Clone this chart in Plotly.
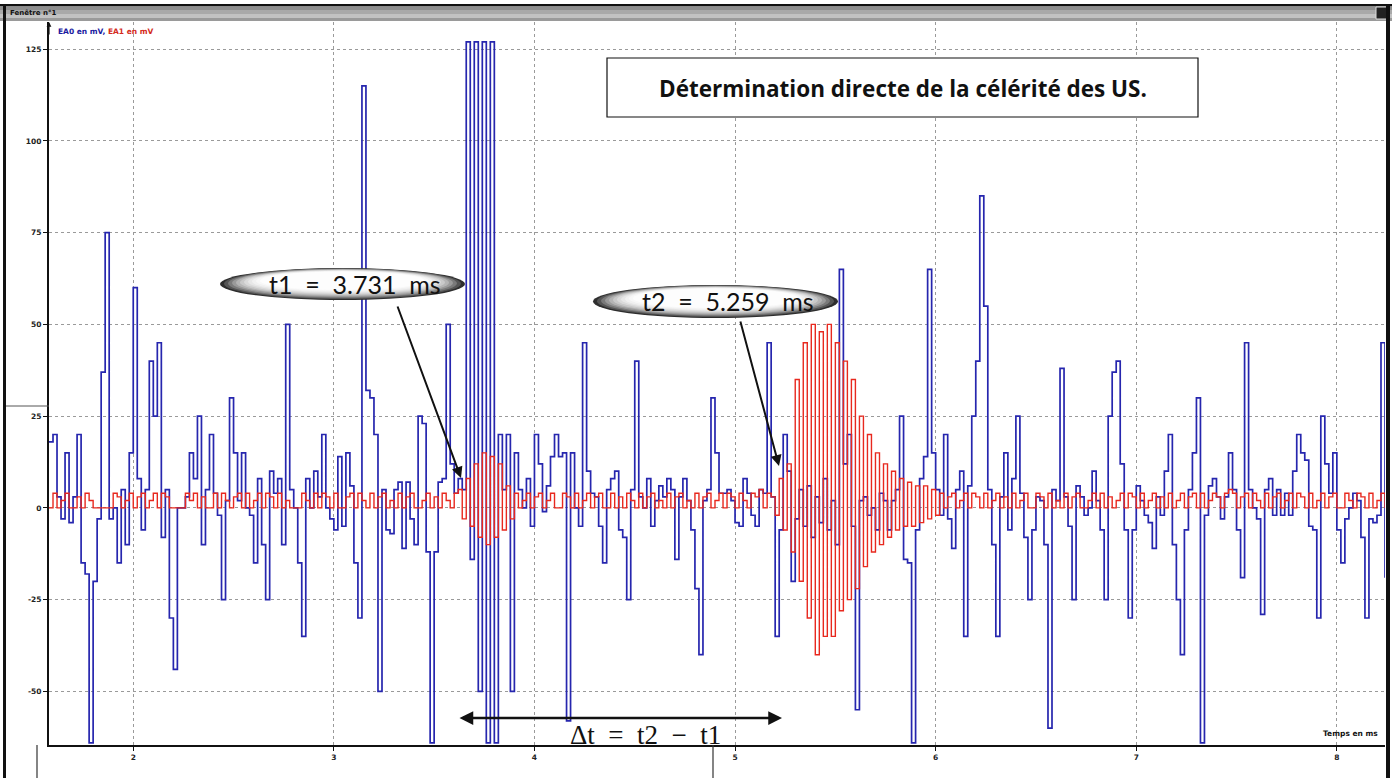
import numpy as np
import plotly.graph_objects as go

# Acquisition: two channels sampled every 0.02 ms starting at 1.58 ms
T0_MS = 1.58
DT_MS = 0.02

# EA0 (emitter side, blue) in mV
ea0_mv = [
    18, 20, 3, -3, 15, -4, 3, 20, -15, -18, -64, -20, -3, 37, 75, -3, 0, -15, 5, -10,
    15, 60, 8, -6, 5, 40, 25, 45, -8, 5, -30, -44, 0, 0, 3, 15, 8, 25, -10, 5,
    20, 4, -2, -25, 2, 30, 15, 2, 15, 0, -2, -15, 8, -10, -25, 10, 4, 8, -10, 50,
    5, 0, -15, -35, 8, 0, 10, 3, 20, 0, -3, -6, 14, -5, 15, 6, -15, -30, 115, 32,
    30, 20, -50, 5, -6, -7, 5, 7, -11, 7, -3, -10, 25, 23, -12, -64, -12, 7, 8, 50,
    12, 4, 8, 5, 127, -14, 127, -50, 127, -64, 127, -64, 20, 5, 20, -50, 15, 5, 0, 8,
    -5, 20, 12, -1, 6, 14, 20, 14, 15, -58, 15, 0, -5, 45, 10, 4, 3, -5, -15, 5,
    8, 10, -6, -8, -25, 5, 40, 3, 0, 8, -5, 2, 6, 3, 8, 5, -14, 3, 8, 2,
    -6, -22, -40, 2, 5, 30, 15, 4, 4, 5, 2, -4, -5, 8, 4, -2, -5, 5, 4, 45,
    3, -35, -6, 20, 10, -20, -3, 5, -5, 6, -8, 3, -4, 8, -6, 2, -10, 65, 12, 20,
    -5, -55, 2, 3, -2, 0, -6, 4, 2, -6, 2, 5, 25, -14, -15, -64, -6, 8, 14, 65,
    15, 5, -2, 20, -3, -11, 5, 10, -35, 6, 25, 40, 85, 55, 5, -10, -35, 3, 15, -6,
    8, 25, 4, -8, -25, -6, 3, 2, -10, -60, 5, 2, 38, 3, -5, -25, 6, 3, -2, 0,
    10, 2, -6, -25, 25, 37, 40, 12, -6, -30, -6, 6, 2, -2, -4, -11, 3, -2, 10, 20,
    -10, -25, -40, -6, 5, 15, 30, -64, -2, 6, 8, 3, -3, 3, 15, 5, -6, -19, 45, 5,
    0, -3, -29, 5, 8, -2, 5, -2, 4, -2, 10, 20, 15, 13, -5, -6, -30, 25, 12, 4,
    15, -6, -15, -3, 0, 4, 2, -8, -30, -3, -4, -2, 45, -19,
]

# EA1 (receiver side, red) in mV
ea1_mv = [
    0, 4, 0, 2, 4, 0, 0, 3, 0, 4, 2, 0, 0, 0, 0, 0, 4, 3, 0, 2,
    4, 0, 3, 4, 0, 2, 4, 0, 4, 3, 0, 0, 0, 0, 4, 2, 4, 0, 3, 0,
    0, 4, 0, 4, 2, 0, 3, 4, 0, 4, 0, 2, 4, 0, 4, 3, 0, 4, 0, 2,
    0, 0, 0, 4, 2, 0, 4, 0, 4, 3, 0, 4, 0, 0, 3, 4, 0, 4, 2, 0,
    4, 0, 3, 4, 0, 2, 0, 4, 0, 3, 4, 0, 0, 2, 4, 0, 3, 0, 4, 2,
    0, 4, 5, -3, 8, -5, 12, -8, 15, -10, 14, -8, 12, -6, 6, -3, 4, 0, 2, 4,
    0, 3, 4, 0, 2, 4, 0, 0, 4, 3, 0, 4, 0, 2, 4, 0, 3, 4, 0, 0,
    4, 0, 3, 0, 4, 2, 0, 4, 0, 3, 4, 0, 2, 0, 4, 0, 3, 4, 0, 2,
    0, 4, 0, 3, 4, 0, 2, 4, 0, 4, 3, 0, 4, 2, 0, 4, 3, 5, 0, 4,
    3, -2, 8, -6, 12, -12, 35, -20, 45, -30, 50, -40, 48, -35, 50, -35, 45, -28, 40, -25,
    35, -22, 25, -16, 20, -12, 15, -10, 12, -8, 10, -6, 8, -5, 7, -5, 6, -4, 6, -3,
    5, -2, 4, 0, 3, 4, 0, 2, 4, 0, 4, 3, 0, 4, 0, 2, 4, 0, 3, 0,
    4, 0, 2, 4, 0, 0, 4, 3, 0, 4, 0, 2, 0, 4, 0, 3, 4, 0, 0, 2,
    4, 0, 4, 0, 3, 0, 2, 4, 0, 4, 3, 0, 4, 0, 2, 4, 0, 3, 0, 4,
    0, 2, 4, 0, 3, 4, 0, 4, 0, 2, 4, 3, 0, 4, 5, 4, 0, 3, 4, 0,
    4, 2, 0, 4, 0, 3, 4, 0, 2, 4, 0, 4, 3, 0, 4, 0, 2, 4, 0, 3,
    4, 0, 0, 4, 2, 0, 4, 3, 0, 4, 0, 2, 4, 0,
]

x_ticks = [2, 3, 4, 5, 6, 7, 8]
y_ticks = [-50, -25, 0, 25, 50, 75, 100, 125]

t_ms = T0_MS + DT_MS * np.arange(len(ea0_mv))

# Page geometry (pixels) and plot-area edges
W, H = 1392, 778
L, R, T, B = 49, 1385, 22, 745


def px(x):
    return (x - L) / (R - L)


def py(y):
    return (B - y) / (B - T)


def label(x, y, text, size, family="DejaVu Sans", color="#111111", xanchor="center", **kw):
    return dict(xref="paper", yref="paper", x=px(x), y=py(y), text=text, showarrow=False,
                xanchor=xanchor, yanchor="middle", font=dict(family=family, size=size, color=color), **kw)


fig = go.Figure()

fig.add_trace(go.Scatter(x=t_ms, y=ea0_mv, mode="lines", line=dict(color="#2626ae", width=1.7, shape="hv"),
                         name="EA0", showlegend=False))
fig.add_trace(go.Scatter(x=t_ms, y=ea1_mv, mode="lines", line=dict(color="#e8281e", width=1.4, shape="hv"),
                         name="EA1", showlegend=False))

shapes = []
annotations = []

# Window frame: title bar, borders
bar_rows = [(4, 6.5, "#111111"), (6.5, 10, "#8e8e8e"), (10, 14, "#a9a9a9"), (14, 18, "#c2c2c2"), (18, 21, "#9a9a9a")]
for y0, y1, c in bar_rows:
    shapes.append(dict(type="rect", xref="paper", yref="paper", x0=px(0), x1=px(W), y0=py(y1), y1=py(y0),
                       fillcolor=c, line=dict(width=0), layer="above"))
shapes.append(dict(type="rect", xref="paper", yref="paper", x0=px(1376), x1=px(1388), y0=py(19), y1=py(7),
                   fillcolor="#222222", line=dict(color="#dddddd", width=1), layer="above"))
shapes.append(dict(type="line", xref="paper", yref="paper", x0=px(4.5), x1=px(4.5), y0=py(H), y1=py(5),
                   line=dict(color="#111111", width=3), layer="above"))
shapes.append(dict(type="line", xref="paper", yref="paper", x0=px(1388), x1=px(1388), y0=py(H), y1=py(5),
                   line=dict(color="#111111", width=4), layer="above"))
shapes.append(dict(type="line", xref="paper", yref="paper", x0=px(6), x1=px(L), y0=py(406), y1=py(406),
                   line=dict(color="#555555", width=1), layer="above"))
for xv in (37, 713):
    shapes.append(dict(type="line", xref="paper", yref="paper", x0=px(xv), x1=px(xv), y0=py(H), y1=py(B),
                       line=dict(color="#333333", width=1.2), layer="above"))

annotations.append(label(8, 13, "<b>Fenêtre n°1</b>", 7, xanchor="left"))
annotations.append(label(56, 32, "<b><span style='color:#1a1aa0'>EA0 en mV,</span> "
                                 "<span style='color:#d42a20'>EA1 en mV</span></b>", 7.5, xanchor="left"))
annotations.append(label(1380, 733, "<b>Temps en ms</b>", 7.5, xanchor="right"))
# Arrow tip of the vertical axis
annotations.append(dict(xref="paper", yref="paper", x=px(L), y=py(22), ax=0, ay=14, text="",
                        showarrow=True, arrowhead=2, arrowsize=0.8, arrowwidth=1.2, arrowcolor="#111111"))

# Title box
shapes.append(dict(type="rect", xref="paper", yref="paper", x0=px(607), x1=px(1198), y0=py(117), y1=py(58),
                   fillcolor="white", line=dict(color="#111111", width=1.2), layer="above"))
annotations.append(label(903, 88, "<b>Détermination directe de la célérité des US.</b>", 22.5, family="Open Sans"))


def bubble(x0, y0, x1, y1, text):
    ramp = ["#2e2e2e", "#555555", "#7a7a7a", "#9a9a9a", "#b4b4b4", "#c9c9c9",
            "#dadada", "#e7e7e7", "#f1f1f1", "#f8f8f8", "#fdfdfd"]
    for i, c in enumerate(ramp):
        shapes.append(dict(type="circle", xref="paper", yref="paper",
                           x0=px(x0 + 4 * i), x1=px(x1 - 4 * i), y0=py(y1 - 1.0 * i), y1=py(y0 + 0.35 * i),
                           fillcolor=c, line=dict(width=0), layer="above"))
    annotations.append(label((x0 + x1) / 2 + 12, (y0 + y1) / 2, text, 25, family="Lato"))


bubble(220, 268, 465, 300, "t1 &nbsp;= &nbsp;3.731 &nbsp;ms")
bubble(593, 285, 838, 318, "t2 &nbsp;= &nbsp;5.259 &nbsp;ms")

# Pointer arrows from the bubbles to the signal onsets
annotations.append(dict(xref="paper", yref="paper", x=px(461), y=py(478), ax=-64, ay=-173, text="",
                        showarrow=True, arrowhead=2, arrowsize=1.1, arrowwidth=2, arrowcolor="#111111"))
annotations.append(dict(xref="paper", yref="paper", x=px(779), y=py(466), ax=-39, ay=-146, text="",
                        showarrow=True, arrowhead=2, arrowsize=1.1, arrowwidth=2, arrowcolor="#111111"))

# Delta-t double arrow and its caption
annotations.append(dict(xref="paper", yref="paper", x=px(782), y=py(718), ax=-324, ay=0, text="",
                        showarrow=True, arrowhead=2, startarrowhead=2, arrowside="end+start",
                        arrowsize=1.1, startarrowsize=1.1, arrowwidth=2.5, arrowcolor="#111111"))
annotations.append(label(645, 735, "Δt&nbsp; = &nbsp;t2 &nbsp;− &nbsp;t1", 27, family="Liberation Serif"))

grid = dict(showgrid=True, gridcolor="#9a9a9a", gridwidth=1, griddash="dot", zeroline=False)
tickfont = dict(family="DejaVu Sans", size=7.5, color="#222222", weight="bold")

fig.update_layout(
    width=W, height=H,
    margin=dict(l=L, r=W - R, t=T, b=H - B),
    paper_bgcolor="white", plot_bgcolor="white",
    shapes=shapes, annotations=annotations,
    xaxis=dict(range=[1.58, 8.24], tickvals=x_ticks, ticktext=[str(v) for v in x_ticks],
               ticks="outside", ticklen=4, tickcolor="#111111",
               showline=True, linecolor="#111111", linewidth=2, tickfont=tickfont, **grid),
    yaxis=dict(range=[-64.6, 132.4], tickvals=y_ticks, ticktext=[str(v) for v in y_ticks],
               ticks="outside", ticklen=4, tickcolor="#111111",
               showline=True, linecolor="#111111", linewidth=2, tickfont=tickfont, **grid),
)

fig.write_html("out.html")
